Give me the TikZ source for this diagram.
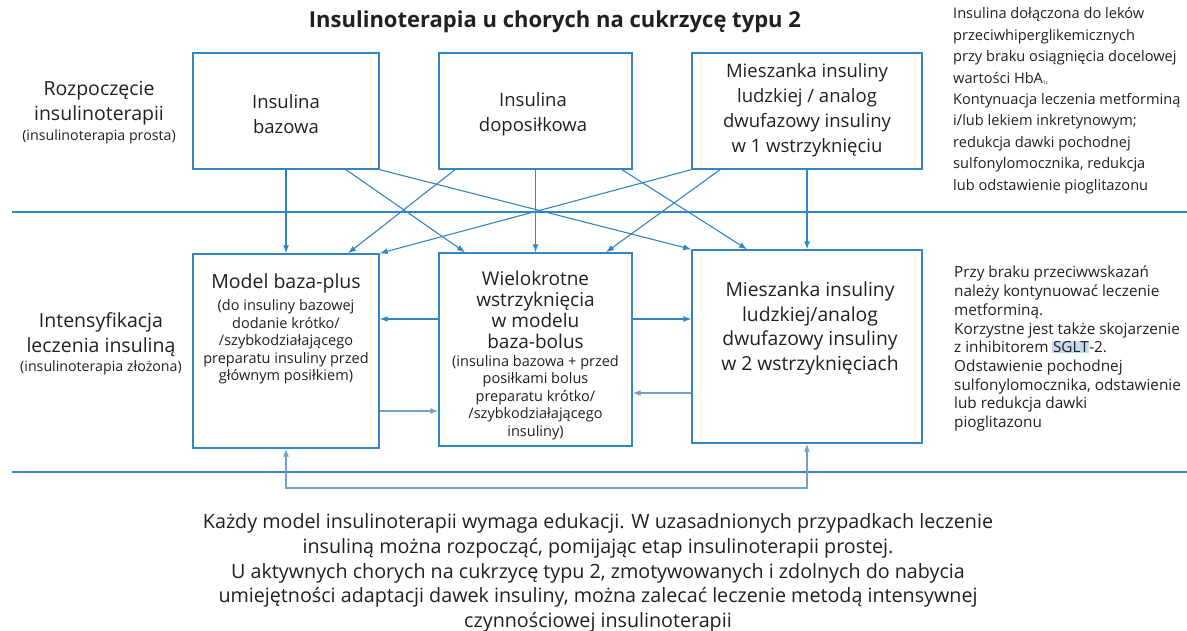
\documentclass[tikz,border=0pt]{standalone}
\usepackage{fontspec}
\setmainfont{Open Sans}
\usetikzlibrary{arrows.meta}
\definecolor{lineblue}{RGB}{50,134,196}
\definecolor{paleblue}{RGB}{118,160,202}
\definecolor{ink}{RGB}{35,31,32}
\definecolor{selblue}{RGB}{196,218,240}

\begin{document}
\begin{tikzpicture}[x=1pt,y=-1pt,
  box/.style={draw=lineblue,line width=1.4pt,inner sep=0pt},
  tip/.style={-{Latex[length=8pt,width=6pt]}},
  link/.style={draw=lineblue,line width=1.1pt,tip},
  linkpale/.style={draw=paleblue,line width=1.3pt,tip},
  rule/.style={draw=lineblue,line width=1.4pt},
  txt/.style={text=ink,inner sep=0pt,align=center},
  big/.style={txt,font=\fontsize{18.5}{25}\selectfont},
  head/.style={txt,font=\fontsize{19.5}{21}\selectfont},
  small/.style={txt,font=\fontsize{14.5}{17.6}\selectfont},
  side/.style={txt,font=\fontsize{19.5}{25}\selectfont},
  sidesmall/.style={txt,font=\fontsize{14.2}{15}\selectfont},
  note/.style={text=ink,inner sep=0pt,align=left,anchor=north west},
]
\useasboundingbox (0,0) rectangle (1187,631);

% title
\node[txt,font=\fontsize{22}{26}\selectfont\bfseries] (title) at (555,22)
  {Insulinoterapia u chorych na cukrzycę typu 2};

% section rules
\coordinate (r1a) at (12,212);  \coordinate (r1b) at (1187,212);
\coordinate (r2a) at (12,472);  \coordinate (r2b) at (1187,472);
\draw[rule] (r1a) -- (r1b);
\draw[rule] (r2a) -- (r2b);

% row labels
\node[side] (startlab) at (99,103) {Rozpoczęcie\\insulinoterapii};
\node[sidesmall] (startsub) at (99,137) {(insulinoterapia prosta)};
\node[side] (intlab) at (101,335) {Intensyfikacja\\leczenia insuliną};
\node[sidesmall] (intsub) at (101,368) {(insulinoterapia złożona)};

% first-step boxes
\node[box,minimum width=186pt,minimum height=116pt] (A) at (286,111) {};
\node[box,minimum width=193pt,minimum height=116pt] (B) at (535.5,111) {};
\node[box,minimum width=230pt,minimum height=116pt] (C) at (807,111) {};
\node[big] (Atxt) at (286,114.5) {Insulina\\bazowa};
\node[big] (Btxt) at (533,114.5) {Insulina\\doposiłkowa};
\node[big] (Ctxt) at (807,110) {Mieszanka insuliny\\ludzkiej / analog\\dwufazowy insuliny\\w 1 wstrzyknięciu};

% intensification boxes
\node[box,minimum width=186pt,minimum height=194pt] (D) at (286,351) {};
\node[box,minimum width=193pt,minimum height=193pt] (E) at (535.5,349.5) {};
\node[box,minimum width=230pt,minimum height=193pt] (F) at (807,346.5) {};
\node[head] (Dhead) at (286,283) {Model baza-plus};
\node[small] (Dtxt) at (286,342) {(do insuliny bazowej\\dodanie krótko/\\/szybkodziałającego\\preparatu insuliny przed\\głównym posiłkiem)};
\node[txt,font=\fontsize{19}{21.2}\selectfont] (Ehead) at (535.5,310) {Wielokrotne\\wstrzyknięcia\\w modelu\\baza-bolus};
\node[small] (Etxt) at (535.5,397.5) {(insulina bazowa + przed\\posiłkami bolus\\preparatu krótko/\\/szybkodziałającego\\insuliny)};
\node[txt,font=\fontsize{19.3}{24.5}\selectfont] (Ftxt) at (810,328.5) {Mieszanka insuliny\\ludzkiej/analog\\dwufazowy insuliny\\w 2 wstrzyknięciach};

% side notes
\node[note,font=\fontsize{14.6}{21.4}\selectfont] (note1) at (953,7.5)
  {Insulina dołączona do leków\\przeciwhiperglikemicznych\\przy braku osiągnięcia docelowej\\wartości HbA{\fontsize{6}{6}\selectfont\textsubscript{1c}}\\Kontynuacja leczenia metforminą\\i/lub lekiem inkretynowym;\\redukcja dawki pochodnej\\sulfonylomocznika, redukcja\\lub odstawienie pioglitazonu};
\node[note,font=\fontsize{15.3}{18.7}\selectfont] (note2) at (954,266)
  {Przy braku przeciwwskazań\\należy kontynuować leczenie\\metforminą.\\Korzystne jest także skojarzenie\\z inhibitorem {\setlength{\fboxsep}{0.6pt}\colorbox{selblue}{SGLT}}-2.\\Odstawienie pochodnej\\sulfonylomocznika, odstawienie\\lub redukcja dawki\\pioglitazonu};

% transitions from the first step
\draw[link] (A.south) -- (D.north);
\draw[link] (A.south -| 346,0) -- (E.north -| 465,0);
\draw[link] (A.south east) -- (F.north west);
\draw[link] (B.south -| 455,0) -- (D.north -| 348,0);
\draw[link] (B.south) -- (E.north);
\draw[link] (B.south -| 622,0) -- (F.north -| 747,0);
\draw[link] (C.south west) -- (D.north east);
\draw[link] (C.south -| 720,0) -- (E.north -| 606,0);
\draw[link] (C.south) -- (F.north);

% moves between intensification models
\draw[link] (E.west |- 0,319) -- (D.east |- 0,319);
\draw[linkpale] (D.east |- 0,411) -- (E.west |- 0,411);
\draw[link] (E.east |- 0,319) -- (F.west |- 0,319);
\draw[linkpale] (F.west |- 0,393) -- (E.east |- 0,393);

% return loop below the models
\draw[draw=paleblue,line width=1.3pt,{Latex[length=8pt,width=6pt]}-{Latex[length=8pt,width=6pt]}]
  (D.south) -- (D.south |- 0,488) -| (F.south);

% footnote
\node[txt,font=\fontsize{19.7}{24.6}\selectfont] (foot) at (598,573)
  {Każdy model insulinoterapii wymaga edukacji. W uzasadnionych przypadkach leczenie\\
   insuliną można rozpocząć, pomijając etap insulinoterapii prostej.\\
   U aktywnych chorych na cukrzycę typu 2, zmotywowanych i zdolnych do nabycia\\
   umiejętności adaptacji dawek insuliny, można zalecać leczenie metodą intensywnej\\
   czynnościowej insulinoterapii};
\end{tikzpicture}
\end{document}
